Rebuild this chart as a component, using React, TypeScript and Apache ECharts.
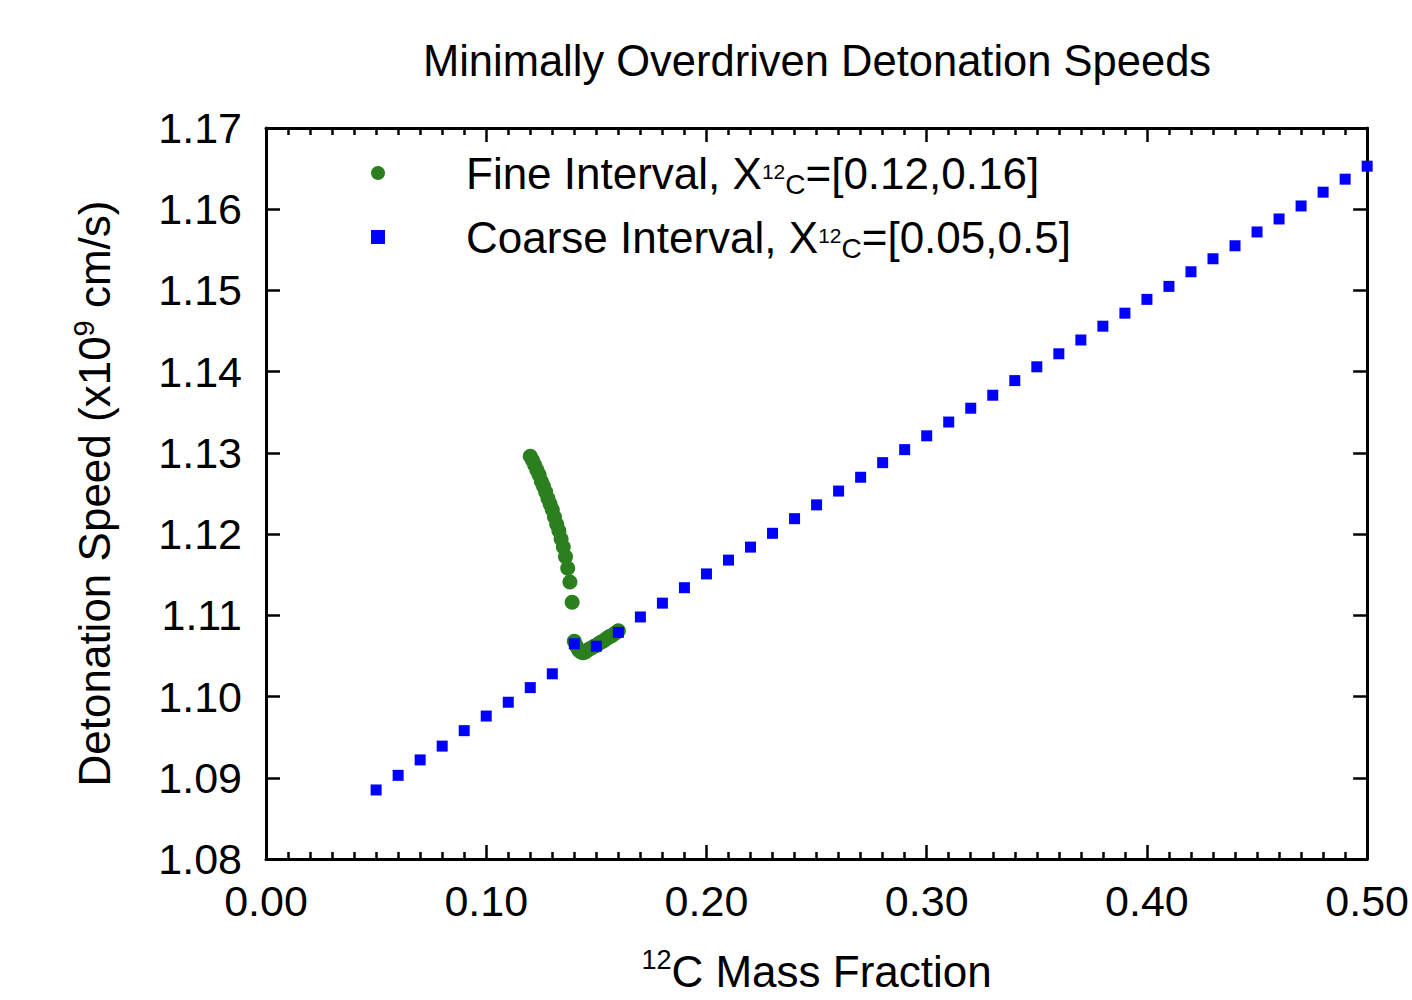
import React, { useEffect, useRef } from "react";
import * as echarts from "echarts";

const titleText = "Minimally Overdriven Detonation Speeds";
const fineName = "Fine Interval";
const coarseName = "Coarse Interval";

const fineX = [
  0.120, 0.121, 0.122, 0.123, 0.124, 0.125, 0.126, 0.127, 0.128, 0.129,
  0.130, 0.131, 0.132, 0.133, 0.134, 0.135, 0.136, 0.137, 0.138, 0.139,
  0.140, 0.141, 0.142, 0.143, 0.144, 0.145, 0.146, 0.147, 0.148, 0.149,
  0.150, 0.151, 0.152, 0.153, 0.154, 0.155, 0.156, 0.157, 0.158, 0.159, 0.160,
];
const fineY = [
  1.1296, 1.1291, 1.1285, 1.1279, 1.1273, 1.1265, 1.1259, 1.1252, 1.1244, 1.1237,
  1.1230, 1.1221, 1.1212, 1.1204, 1.1194, 1.1184, 1.1172, 1.1158, 1.1141, 1.1116,
  1.1068, 1.1062, 1.1057, 1.1055, 1.1054, 1.1055, 1.1057, 1.1059, 1.1060, 1.1062,
  1.1063, 1.1065, 1.1067, 1.1068, 1.1070, 1.1072, 1.1074, 1.1075, 1.1077, 1.1079, 1.1081,
];

const coarseX = [
  0.05, 0.06, 0.07, 0.08, 0.09, 0.10, 0.11, 0.12, 0.13, 0.14,
  0.15, 0.16, 0.17, 0.18, 0.19, 0.20, 0.21, 0.22, 0.23, 0.24,
  0.25, 0.26, 0.27, 0.28, 0.29, 0.30, 0.31, 0.32, 0.33, 0.34,
  0.35, 0.36, 0.37, 0.38, 0.39, 0.40, 0.41, 0.42, 0.43, 0.44,
  0.45, 0.46, 0.47, 0.48, 0.49, 0.50,
];
const coarseY = [
  1.0885, 1.0903, 1.0922, 1.0939, 1.0958, 1.0976, 1.0993, 1.1011, 1.1028, 1.1065,
  1.1062, 1.1079, 1.1098, 1.1115, 1.1134, 1.1151, 1.1168, 1.1184, 1.1201, 1.1219,
  1.1236, 1.1253, 1.1270, 1.1288, 1.1304, 1.1321, 1.1338, 1.1355, 1.1371, 1.1389,
  1.1406, 1.1422, 1.1439, 1.1456, 1.1472, 1.1489, 1.1505, 1.1523, 1.1539, 1.1555,
  1.1572, 1.1588, 1.1604, 1.1621, 1.1637, 1.1653,
];

const xMin = 0, xMax = 0.5, xStep = 0.1;
const yMin = 1.08, yMax = 1.17, yStep = 0.01;

const FONT = "'Liberation Sans', Arial, Helvetica, sans-serif";

export default function App() {
  const ref = useRef<HTMLDivElement>(null);
  useEffect(() => {
    if (!ref.current) return;
    const chart = echarts.init(ref.current, undefined, { renderer: "svg" });
    const axisLine = () => ({ show: true, onZero: false, lineStyle: { color: "#000", width: 3 } });
    const tick = () => ({ show: true, inside: true, length: 14, lineStyle: { color: "#000", width: 2.5 } });
    const minor = () => ({ show: true, splitNumber: 10, length: 7, lineStyle: { color: "#000", width: 2.5 } });
    const legendRich = {
      g: { width: 76, fontSize: 44, lineHeight: 50 },
      a: { fontSize: 44, lineHeight: 50, color: "#000", fontFamily: FONT },
      s: { fontSize: 21, lineHeight: 21, verticalAlign: "middle", color: "#000", fontFamily: FONT, padding: [0, 0, 4, 0] },
      c: { fontSize: 28, lineHeight: 28, verticalAlign: "bottom", color: "#000", fontFamily: FONT },
    };
    chart.setOption({
      animation: false,
      backgroundColor: "#fff",
      textStyle: { fontFamily: FONT },
      title: {
        text: titleText,
        left: 817,
        textAlign: "center",
        top: 39,
        padding: 0,
        textStyle: { fontSize: 43.5, fontWeight: "normal", color: "#000", fontFamily: FONT },
      },
      grid: { left: 266, right: 43, top: 128, bottom: 141, containLabel: false },
      legend: {
        orient: "vertical",
        left: 371,
        top: 151,
        itemWidth: 14,
        itemHeight: 14,
        itemGap: 17,
        padding: 0,
        data: [
          { name: fineName, icon: "circle" },
          { name: coarseName, icon: "rect" },
        ],
        formatter: (name: string) =>
          name === fineName
            ? "{g| }{a|Fine Interval, X}{s|12}{c|C}{a|=[0.12,0.16]}"
            : "{g| }{a|Coarse Interval, X}{s|12}{c|C}{a|=[0.05,0.5]}",
        textStyle: { rich: legendRich, fontSize: 44, color: "#000" },
      },
      xAxis: [
        {
          type: "value",
          min: xMin,
          max: xMax,
          interval: xStep,
          position: "bottom",
          axisLine: axisLine(),
          axisTick: tick(),
          minorTick: minor(),
          splitLine: { show: false },
          axisLabel: {
            color: "#000",
            fontSize: 43,
            fontFamily: FONT,
            margin: 20,
            formatter: (v: number) => v.toFixed(2),
          },
          name: "{s|12}{a|C Mass Fraction}",
          nameLocation: "middle",
          nameGap: 87,
          nameTextStyle: {
            rich: {
              a: { fontSize: 44, lineHeight: 50, color: "#000", fontFamily: FONT },
              s: { fontSize: 27, lineHeight: 27, verticalAlign: "top", color: "#000", fontFamily: FONT },
            },
          },
        },
        {
          type: "value",
          min: xMin,
          max: xMax,
          interval: xStep,
          position: "top",
          axisLine: axisLine(),
          axisTick: tick(),
          minorTick: minor(),
          splitLine: { show: false },
          axisLabel: { show: false },
        },
      ],
      yAxis: [
        {
          type: "value",
          min: yMin,
          max: yMax,
          interval: yStep,
          position: "left",
          axisLine: axisLine(),
          axisTick: tick(),
          splitLine: { show: false },
          axisLabel: {
            color: "#000",
            fontSize: 43,
            fontFamily: FONT,
            margin: 24,
            formatter: (v: number) => v.toFixed(2),
          },
          name: "{a|Detonation Speed (x10}{s|9}{a| cm/s)}",
          nameLocation: "middle",
          nameRotate: 90,
          nameGap: 147,
          nameTextStyle: {
            rich: {
              a: { fontSize: 44, lineHeight: 50, color: "#000", fontFamily: FONT },
              s: { fontSize: 29, lineHeight: 29, verticalAlign: "top", color: "#000", fontFamily: FONT },
            },
          },
        },
        {
          type: "value",
          min: yMin,
          max: yMax,
          interval: yStep,
          position: "right",
          axisLine: axisLine(),
          axisTick: tick(),
          splitLine: { show: false },
          axisLabel: { show: false },
        },
      ],
      series: [
        {
          name: fineName,
          type: "scatter",
          xAxisIndex: 0,
          yAxisIndex: 0,
          symbol: "circle",
          symbolSize: 15,
          itemStyle: { color: "#2b7f1f", opacity: 1 },
          data: fineX.map((x, i) => [x, fineY[i]]),
        },
        {
          name: coarseName,
          type: "scatter",
          xAxisIndex: 0,
          yAxisIndex: 0,
          symbol: "rect",
          symbolSize: 11,
          itemStyle: { color: "#0000ff", opacity: 1 },
          data: coarseX.map((x, i) => [x, coarseY[i]]),
        },
      ],
    });
    return () => chart.dispose();
  }, []);
  return (
    <div
      ref={ref}
      style={{ position: "fixed", left: 0, top: 0, width: 1412, height: 1000, background: "#fff" }}
    />
  );
}
